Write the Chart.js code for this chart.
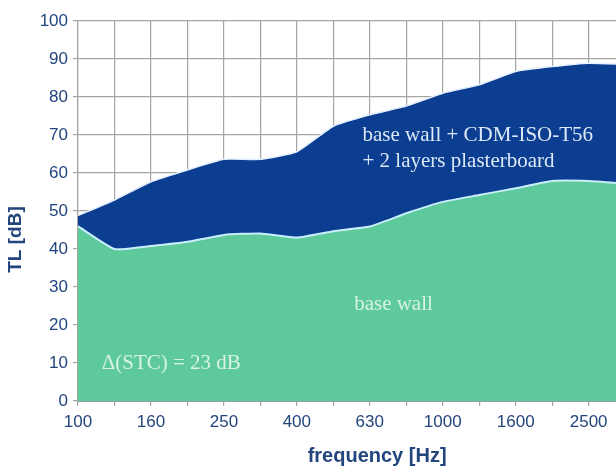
<!DOCTYPE html>
<html>
<head>
<meta charset="utf-8">
<script src="https://cdn.jsdelivr.net/npm/chart.js@4"></script>
<style>
    html, body { margin: 0; padding: 0; background: #fff; overflow: hidden; }
    #wrap { width: 616px; height: 475px; }
</style>
</head>
<body>
<div id="wrap"><canvas id="chartTL"></canvas></div>
<script>
// third-octave bands (the last one is cut off at the right edge)
const frequencies = ['100', '125', '160', '200', '250', '315', '400', '500', '630', '800', '1000', '1250', '1600', '2000', '2500', '3150'];
// TL [dB]
const baseWall = [46, 40, 40.8, 41.9, 43.7, 44.1, 43, 44.7, 45.9, 49.4, 52.4, 54.2, 56, 57.9, 57.9, 57.2];
const treatedWall = [48.8, 52.9, 57.7, 60.8, 63.6, 63.6, 65.6, 72.3, 75.3, 77.6, 81, 83.2, 86.7, 88, 88.9, 88.6];
const yTicks = [0, 10, 20, 30, 40, 50, 60, 70, 80, 90, 100];

const navy = '#23457e';
const sans = '"Liberation Sans", Arial, sans-serif';

// text written on the areas
const notes = [
    { text: 'base wall + CDM-ISO-T56', x: 7.8, y: 70, color: '#dce9f7', align: 'left' },
    { text: '+ 2 layers plasterboard', x: 7.8, y: 63, color: '#dce9f7', align: 'left' },
    { text: 'base wall', x: 8.65, y: 25.5, color: 'rgba(236,250,242,0.85)', align: 'center' },
    { text: '\u0394(STC) = 23 dB', x: 0.65, y: 10, color: 'rgba(236,250,242,0.85)', align: 'left' },
];

const notesPlugin = {
    id: 'notes',
    afterDatasetsDraw(chart) {
        const { ctx, scales } = chart;
        ctx.save();
        ctx.font = '21px "Liberation Serif", "DejaVu Serif", serif';
        ctx.textBaseline = 'middle';
        notes.forEach((n) => {
            ctx.fillStyle = n.color;
            ctx.textAlign = n.align;
            ctx.fillText(n.text, scales.x.getPixelForValue(n.x), scales.y.getPixelForValue(n.y));
        });
        ctx.restore();
    },
    // axis titles, placed like in the original (not quite centred)
    afterDraw(chart) {
        const { ctx, scales } = chart;
        ctx.save();
        ctx.fillStyle = navy;
        ctx.textAlign = 'center';
        ctx.textBaseline = 'middle';

        ctx.font = 'bold 20px ' + sans;
        ctx.fillText('frequency [Hz]', scales.x.getPixelForValue(8.2), scales.x.bottom - 19);

        ctx.translate(16, scales.y.getPixelForValue(42.5));
        ctx.rotate(-Math.PI / 2);
        ctx.font = 'bold 19px ' + sans;
        ctx.fillText('TL [dB]', 0, 0);
        ctx.restore();
    },
};

new Chart(document.getElementById('chartTL'), {
    type: 'line',
    data: {
        datasets: [
            {
                label: 'base wall',
                data: baseWall.map((v, i) => ({ x: i, y: v })),
                borderColor: '#c9eefc',
                borderWidth: 2,
                backgroundColor: '#5ec99a',
                fill: 'origin',
                pointRadius: 0,
                tension: 0.15,
            },
            {
                label: 'base wall + CDM-ISO-T56 + 2 layers plasterboard',
                data: treatedWall.map((v, i) => ({ x: i, y: v })),
                borderColor: '#e4f0ff',
                borderWidth: 1.5,
                backgroundColor: '#0b3d90',
                fill: 'origin',
                pointRadius: 0,
                tension: 0.15,
            },
        ],
    },
    options: {
        responsive: true,
        maintainAspectRatio: false,
        animation: false,
        layout: { padding: { top: 21, right: 0, left: 0, bottom: 0 } },
        plugins: { legend: { display: false }, tooltip: { enabled: false } },
        scales: {
            x: {
                type: 'linear',
                min: 0,
                max: 14.75,
                afterFit: (scale) => { scale.height = 74; },
                ticks: {
                    stepSize: 1,
                    includeBounds: false,
                    autoSkip: false,
                    maxRotation: 0,
                    color: navy,
                    font: { family: sans, size: 17 },
                    padding: 6,
                    callback: (value) => (value % 2 === 0 ? frequencies[value] : ''),
                },
                grid: { color: '#a5a5a5', lineWidth: 1.2, tickLength: 5 },
                border: { color: '#9c9c9c', width: 2 },
            },
            y: {
                min: 0,
                max: 100,
                afterFit: (scale) => { scale.width = 78; },
                afterBuildTicks: (scale) => { scale.ticks = yTicks.map((v) => ({ value: v })); },
                ticks: {
                    color: navy,
                    font: { family: sans, size: 17 },
                    padding: 5,
                },
                grid: { color: '#a5a5a5', lineWidth: 1.2, tickLength: 5 },
                border: { color: '#a5a5a5', width: 1.2 },
            },
        },
    },
    plugins: [notesPlugin],
});
</script>
</body>
</html>
